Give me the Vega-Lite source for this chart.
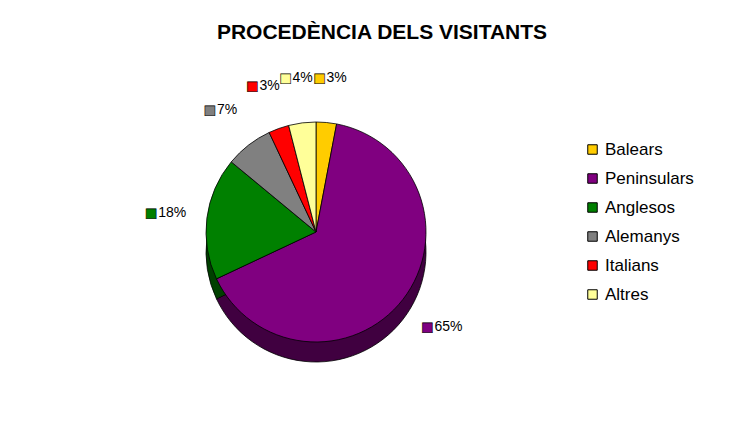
{
  "$schema": "https://vega.github.io/schema/vega-lite/v6.json",
  "autosize": "none",
  "width": 440,
  "height": 384,
  "padding": {"left": 96, "top": 40, "right": 211, "bottom": 24},
  "background": "white",
  "title": {
    "text": "PROCEDÈNCIA DELS VISITANTS",
    "font": "Liberation Sans",
    "fontSize": 21,
    "fontWeight": "bold",
    "color": "black",
    "anchor": "middle",
    "frame": "group",
    "dx": 66,
    "offset": -3
  },
  "config": {"view": {"stroke": null}},
  "data": {
    "values": [
      {"origen": "Balears", "pct": 0.03, "ord": 1},
      {"origen": "Peninsulars", "pct": 0.65, "ord": 2},
      {"origen": "Anglesos", "pct": 0.18, "ord": 3},
      {"origen": "Alemanys", "pct": 0.07, "ord": 4},
      {"origen": "Italians", "pct": 0.03, "ord": 5},
      {"origen": "Altres", "pct": 0.04, "ord": 6}
    ]
  },
  "encoding": {
    "theta": {"field": "pct", "type": "quantitative", "stack": true},
    "order": {"field": "ord", "type": "quantitative"}
  },
  "layer": [
    {
      "mark": {"type": "arc", "outerRadius": 110, "yOffset": 20, "stroke": "black", "strokeWidth": 0.8},
      "encoding": {
        "color": {
          "field": "origen",
          "type": "nominal",
          "scale": {
            "domain": ["Balears", "Peninsulars", "Anglesos", "Alemanys", "Italians", "Altres"],
            "range": ["#806600", "#400040", "#004000", "#404040", "#800000", "#808050"]
          },
          "legend": null
        }
      }
    },
    {
      "mark": {"type": "arc", "outerRadius": 110, "stroke": "black", "strokeWidth": 0.8},
      "encoding": {
        "color": {
          "field": "origen",
          "type": "nominal",
          "scale": {
            "domain": ["Balears", "Peninsulars", "Anglesos", "Alemanys", "Italians", "Altres"],
            "range": ["#FFCC00", "#800080", "#008000", "#808080", "#FF0000", "#FFFF99"]
          },
          "legend": {
            "orient": "none",
            "legendX": 488,
            "legendY": 101,
            "title": null,
            "symbolType": "square",
            "symbolSize": 90,
            "symbolStrokeColor": "black",
            "symbolStrokeWidth": 1,
            "labelFontSize": 17,
            "labelFont": "Liberation Sans",
            "labelColor": "black",
            "rowPadding": 11,
            "labelOffset": 4,
            "padding": 0
          }
        }
      }
    },
    {
      "mark": {"type": "text", "radius": 155, "text": "■", "align": "center", "dx": -11, "fontSize": 13, "font": "DejaVu Sans", "stroke": "black", "strokeWidth": 0.6},
      "encoding": {
        "color": {
          "field": "origen",
          "type": "nominal",
          "scale": {
            "domain": ["Balears", "Peninsulars", "Anglesos", "Alemanys", "Italians", "Altres"],
            "range": ["#FFCC00", "#800080", "#008000", "#808080", "#FF0000", "#FFFF99"]
          },
          "legend": null
        }
      }
    },
    {
      "mark": {"type": "text", "radius": 155, "align": "left", "dx": -4, "fontSize": 14, "font": "Liberation Sans"},
      "encoding": {
        "text": {"field": "pct", "type": "quantitative", "format": ".0%"},
        "color": {"value": "black"}
      }
    }
  ],
  "resolve": {"scale": {"color": "independent"}, "legend": {"color": "independent"}}
}
